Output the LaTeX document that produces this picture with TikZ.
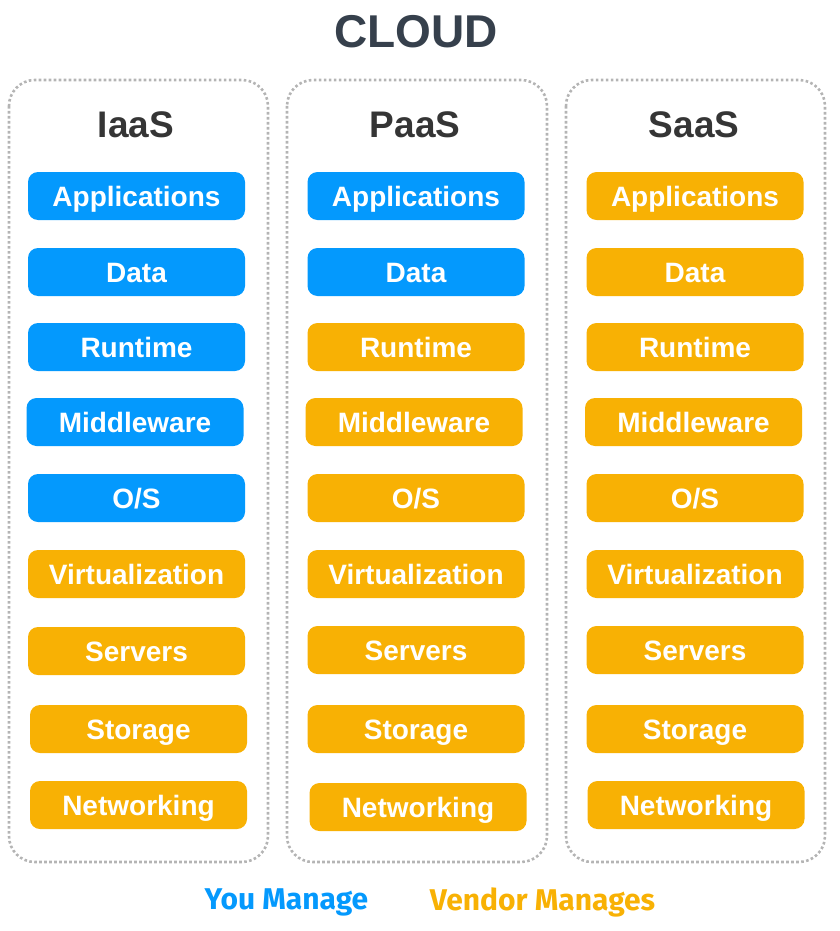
\documentclass[tikz,border=0pt]{standalone}
\usepackage{fontspec}
\setmainfont{Liberation Sans}
\newfontfamily\legendfont{Fira Sans}
\definecolor{youblue}{HTML}{0499FD}
\definecolor{vendororange}{HTML}{F8B104}
\definecolor{titleink}{HTML}{36404C}
\definecolor{headink}{HTML}{353535}
\definecolor{frame}{HTML}{B4B4B4}
\begin{document}
\begin{tikzpicture}[x=1pt,y=-1pt,
  colbox/.style={draw=frame, line width=2.6pt, dash pattern=on 2.6pt off 2.4pt,
    rounded corners=26pt},
  pill/.style={rounded corners=10pt, minimum width=217pt, minimum height=48pt,
    inner sep=0pt, text height=20pt, text depth=0pt, text=white,
    font=\fontsize{28}{28}\selectfont\bfseries},
  you/.style={pill, fill=youblue},
  vendor/.style={pill, fill=vendororange},
  heading/.style={text=headink, font=\fontsize{37}{37}\selectfont\bfseries},
  legend/.style={font=\legendfont\fontsize{30}{30}\selectfont\bfseries}]
\useasboundingbox (0,0) rectangle (839,931);

% title
\node[text=titleink, font=\fontsize{46}{46}\selectfont\bfseries] (title) at (416,32) {CLOUD};

% column frames
\draw[colbox] (9,80) rectangle (268,862);
\draw[colbox] (287,80) rectangle (547,862);
\draw[colbox] (566,80) rectangle (825,862);

% column headings
\node[heading] (iaas) at (136,125) {IaaS};
\node[heading] (paas) at (415,125) {PaaS};
\node[heading] (saas) at (694,125) {SaaS};

% IaaS stack
\node[you]    (i1) at (136.5,196) {Applications};
\node[you]    (i2) at (136.5,272) {Data};
\node[you]    (i3) at (136.5,347) {Runtime};
\node[you]    (i4) at (135,422) {Middleware};
\node[you]    (i5) at (136.5,498) {O/S};
\node[vendor] (i6) at (136.5,574) {Virtualization};
\node[vendor] (i7) at (136.5,651) {Servers};
\node[vendor] (i8) at (138.5,729) {Storage};
\node[vendor] (i9) at (138.5,805) {Networking};

% PaaS stack
\node[you]    (p1) at (416,196) {Applications};
\node[you]    (p2) at (416,272) {Data};
\node[vendor] (p3) at (416,347) {Runtime};
\node[vendor] (p4) at (414,422) {Middleware};
\node[vendor] (p5) at (416,498) {O/S};
\node[vendor] (p6) at (416,574) {Virtualization};
\node[vendor] (p7) at (416,650) {Servers};
\node[vendor] (p8) at (416,729) {Storage};
\node[vendor] (p9) at (418,807) {Networking};

% SaaS stack
\node[vendor] (s1) at (695,196) {Applications};
\node[vendor] (s2) at (695,272) {Data};
\node[vendor] (s3) at (695,347) {Runtime};
\node[vendor] (s4) at (693.5,422) {Middleware};
\node[vendor] (s5) at (695,498) {O/S};
\node[vendor] (s6) at (695,574) {Virtualization};
\node[vendor] (s7) at (695,650) {Servers};
\node[vendor] (s8) at (695,729) {Storage};
\node[vendor] (s9) at (696,805) {Networking};

% legend
\node[legend, text=youblue] (lyou) at (286.5,902) {You Manage};
\node[legend, text=vendororange] (lvendor) at (542.5,902) {Vendor Manages};
\end{tikzpicture}
\end{document}
